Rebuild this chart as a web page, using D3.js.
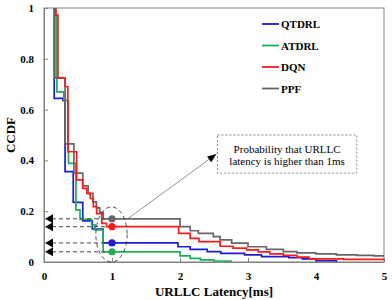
<!DOCTYPE html>
<html>
<head>
<meta charset="utf-8">
<script src="https://cdn.jsdelivr.net/npm/d3@7"></script>
<style>
body { margin: 0; background: #fff; }
</style>
</head>
<body>
<script>
const width = 392;
const height = 300;

const margin = { left: 44, right: 8, top: 8, bottom: 38 };

// step points: [latency where the drop happens, CCDF level after it]
const qtdrl = [[0.15,1],[0.15,0.644],[0.28,0.635],[0.31,0.356],[0.43,0.235],[0.57,0.162],[0.71,0.13],[0.87,0.075],
    [1.97,0.06],[2.15,0.05],[2.4,0.041],[2.6,0.034],[2.95,0.028],[3.2,0.021],[3.6,0.017],[3.8,0.012],[4.0,0.005],[4.3,0]];
const atdrl = [[0.17,1],[0.17,0.97],[0.19,0.67],[0.29,0.635],[0.36,0.388],[0.47,0.205],[0.53,0.168],[0.70,0.146],
    [0.75,0.126],[0.87,0.04],[2.0,0.024],[2.15,0.014],[2.3,0.008],[2.5,0.004],[2.75,0]];
const dqn = [[0.175,1],[0.175,0.972],[0.205,0.725],[0.31,0.69],[0.35,0.434],[0.48,0.323],[0.57,0.29],[0.63,0.27],
    [0.68,0.25],[0.725,0.218],[0.775,0.19],[0.85,0.152],[0.92,0.139],[1.98,0.113],[2.15,0.093],[2.28,0.08],
    [2.59,0.062],[2.78,0.055],[2.98,0.048],[3.15,0.04],[3.32,0.032],[3.52,0.026],[3.72,0.019],[3.9,0.012],
    [4.4,0.01],[5,0.008]];
const ppf = [[0.16,1],[0.16,0.724],[0.31,0.465],[0.44,0.35],[0.57,0.30],[0.65,0.27],[0.72,0.237],[0.77,0.213],
    [0.82,0.195],[0.87,0.17],[2.0,0.139],[2.15,0.123],[2.27,0.113],[2.49,0.10],[2.59,0.087],[2.76,0.074],
    [3.0,0.06],[3.27,0.05],[3.52,0.041],[3.72,0.036],[4.0,0.032],[4.3,0.028],[4.6,0.026],[4.85,0.024],[5,0.024]];

const seriesNames = ["QTDRL", "ATDRL", "DQN", "PPF"];
const seriesData = [qtdrl, atdrl, dqn, ppf];
const seriesColors = ["#1c1cd4", "#1fae58", "#ff1a1a", "#666666"];

// CCDF value at 1 ms for each series
const at1ms = [0.075, 0.04, 0.139, 0.17];

const xTicks = [0, 1, 2, 3, 4, 5];
const yTicks = [0, 0.2, 0.4, 0.6, 0.8, 1];
const xTitle = "URLLC Latency[ms]";
const yTitle = "CCDF";
const noteLines = ["Probability that URLLC", "latency is higher than 1ms"];

const serif = "'Liberation Serif', 'Times New Roman', serif";

let svg = d3.select("body").append("svg")
    .attr("width", width)
    .attr("height", height);

let xScale = d3.scaleLinear()
    .domain([0, 5])
    .range([margin.left, width - margin.right]);

let yScale = d3.scaleLinear()
    .domain([0, 1])
    .range([height - margin.bottom, margin.top]);

// frame
svg.append("rect")
    .attr("x", margin.left)
    .attr("y", margin.top)
    .attr("width", width - margin.left - margin.right)
    .attr("height", height - margin.top - margin.bottom)
    .attr("fill", "none")
    .attr("stroke", "#808080")
    .attr("stroke-width", 1);

let xAxis = svg.append("g")
    .attr("transform", "translate(0," + (height - margin.bottom) + ")")
    .call(d3.axisBottom(xScale).tickValues(xTicks).tickFormat(d3.format("d"))
        .tickSizeInner(-4).tickSizeOuter(0).tickPadding(10));

let yAxis = svg.append("g")
    .attr("transform", "translate(" + margin.left + ",0)")
    .call(d3.axisLeft(yScale).tickValues(yTicks).tickFormat(d => d === 0 || d === 1 ? d : d3.format(".1f")(d))
        .tickSizeInner(-4).tickSizeOuter(0).tickPadding(10));

[xAxis, yAxis].forEach(a => {
    a.select(".domain").attr("stroke", "#808080");
    a.selectAll(".tick line").attr("stroke", "#808080");
    a.selectAll(".tick text")
        .style("font-family", serif)
        .style("font-weight", "bold")
        .style("font-size", "11px")
        .attr("fill", "#000");
});

svg.append("text")
    .attr("x", (xScale(0) + xScale(5)) / 2)
    .attr("y", 296)
    .attr("text-anchor", "middle")
    .style("font-family", serif)
    .style("font-weight", "bold")
    .style("font-size", "13px")
    .text(xTitle);

svg.append("text")
    .attr("transform", `translate(15, ${(yScale(0) + yScale(1)) / 2}) rotate(-90)`)
    .attr("text-anchor", "middle")
    .style("font-family", serif)
    .style("font-weight", "bold")
    .style("font-size", "13px")
    .text(yTitle);

svg.append("clipPath").attr("id", "clip")
    .append("rect")
    .attr("x", margin.left)
    .attr("y", margin.top)
    .attr("width", width - margin.left - margin.right)
    .attr("height", height - margin.top - margin.bottom);

let line = d3.line()
    .curve(d3.curveStepAfter)
    .x(d => xScale(d[0]))
    .y(d => yScale(d[1]));

// blue and green underneath, grey then red on top
let order = [0, 1, 3, 2];
svg.append("g")
    .attr("clip-path", "url(#clip)")
    .selectAll(".curve")
    .data(order)
    .enter()
    .append("path")
    .attr("class", "curve")
    .attr("fill", "none")
    .attr("stroke-width", 1.7)
    .attr("stroke", i => seriesColors[i])
    .attr("d", i => line(seriesData[i]));

// dashed guides back to the y axis
svg.selectAll(".guide")
    .data(at1ms)
    .enter()
    .append("line")
    .attr("class", "guide")
    .attr("x1", xScale(1))
    .attr("x2", xScale(0) + 8)
    .attr("y1", d => yScale(d))
    .attr("y2", d => yScale(d))
    .attr("stroke", "#444")
    .attr("stroke-width", 1)
    .attr("stroke-dasharray", "4,3");

svg.selectAll(".tri")
    .data(at1ms)
    .enter()
    .append("path")
    .attr("class", "tri")
    .attr("d", d => {
        let x0 = xScale(0) + 1, y0 = yScale(d);
        return `M${x0},${y0}L${x0 + 8},${y0 - 4.5}L${x0 + 8},${y0 + 4.5}Z`;
    })
    .attr("fill", "#000");

svg.selectAll(".dot")
    .data(at1ms)
    .enter()
    .append("circle")
    .attr("class", "dot")
    .attr("cx", xScale(1))
    .attr("cy", d => yScale(d))
    .attr("r", 3.6)
    .attr("fill", (d, i) => seriesColors[i]);

// dashed ellipse round the 1 ms points
let ellTop = 0.217;
svg.append("ellipse")
    .attr("cx", xScale(1) - 0.5)
    .attr("cy", (yScale(0) + yScale(ellTop)) / 2)
    .attr("rx", xScale(0.23) - xScale(0))
    .attr("ry", (yScale(0) - yScale(ellTop)) / 2)
    .attr("fill", "none")
    .attr("stroke", "#333")
    .attr("stroke-width", 0.9)
    .attr("stroke-dasharray", "4,3");

// note box
let box = { x0: 2.55, x1: 4.6, y0: 0.35, y1: 0.5 };
svg.append("rect")
    .attr("x", xScale(box.x0))
    .attr("y", yScale(box.y1))
    .attr("width", xScale(box.x1) - xScale(box.x0))
    .attr("height", yScale(box.y0) - yScale(box.y1))
    .attr("fill", "#fff")
    .attr("stroke", "#777")
    .attr("stroke-width", 0.9)
    .attr("stroke-dasharray", "2,2");

svg.selectAll(".note")
    .data(noteLines)
    .enter()
    .append("text")
    .attr("class", "note")
    .attr("x", (xScale(box.x0) + xScale(box.x1)) / 2)
    .attr("y", (d, i) => yScale(box.y1) + 18 + i * 12)
    .attr("text-anchor", "middle")
    .style("font-family", serif)
    .style("font-size", "11px")
    .text(d => d);

// pointer from ellipse to box
let ax0 = xScale(1.23), ay0 = yScale(0.17);
let ax1 = xScale(box.x0) - 1, ay1 = yScale(0.425);
svg.append("line")
    .attr("x1", ax0).attr("y1", ay0)
    .attr("x2", ax1).attr("y2", ay1)
    .attr("stroke", "#777")
    .attr("stroke-width", 0.8);

let ang = Math.atan2(ay1 - ay0, ax1 - ax0);
let hl = 9, hw = 3.5;
let bx = ax1 - hl * Math.cos(ang), by = ay1 - hl * Math.sin(ang);
svg.append("path")
    .attr("d", `M${ax1},${ay1}L${bx - hw * Math.sin(ang)},${by + hw * Math.cos(ang)}L${bx + hw * Math.sin(ang)},${by - hw * Math.cos(ang)}Z`)
    .attr("fill", "#000");

// legend
let legend = svg.selectAll(".legend")
    .data(seriesNames)
    .enter()
    .append("g")
    .attr("class", "legend")
    .attr("transform", (d, i) => `translate(262, ${24 + i * 21.5})`);

legend.append("line")
    .attr("x1", 0).attr("x2", 17)
    .attr("stroke", (d, i) => seriesColors[i])
    .attr("stroke-width", 1.8);

legend.append("text")
    .attr("x", 19)
    .attr("y", 4)
    .style("font-family", serif)
    .style("font-weight", "bold")
    .style("font-size", "11px")
    .text(d => d);
</script>
</body>
</html>
